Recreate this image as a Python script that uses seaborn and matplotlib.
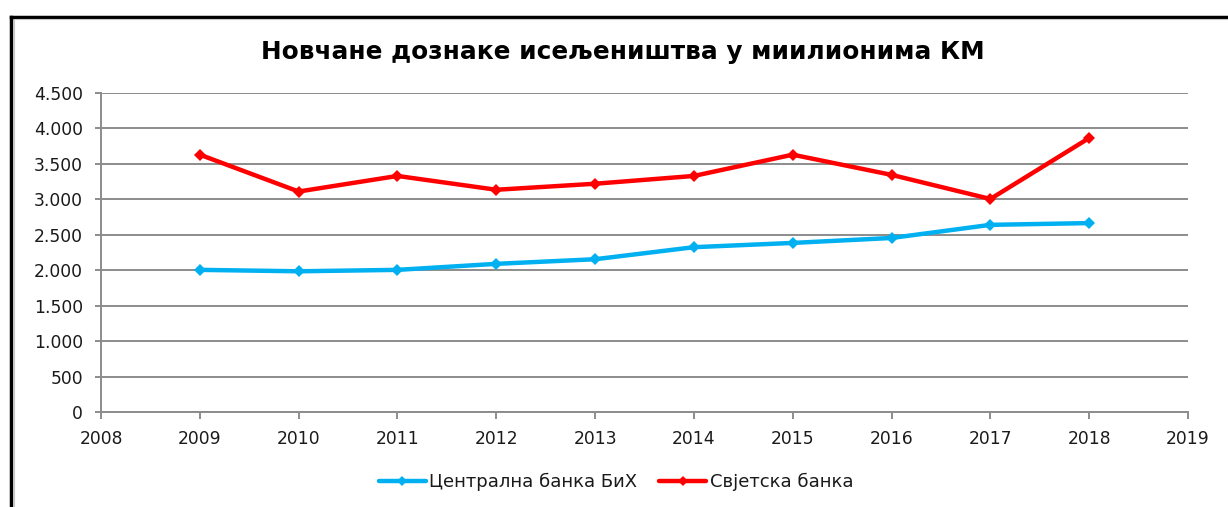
import matplotlib
matplotlib.use("Agg")
import matplotlib.pyplot as plt
from matplotlib.lines import Line2D
from matplotlib.ticker import FuncFormatter, MultipleLocator
import pandas as pd
import seaborn as sns

# Remittances from the diaspora, millions of KM
years = [2009, 2010, 2011, 2012, 2013, 2014, 2015, 2016, 2017, 2018]
cbbh = [2005, 1985, 2005, 2090, 2155, 2325, 2385, 2455, 2640, 2665]
world_bank = [3630, 3110, 3330, 3135, 3220, 3330, 3630, 3345, 3005, 3865]
series_names = ["Централна банка БиХ", "Свјетска банка"]
title_text = "Новчане дознаке исељеништва у миилионима КМ"

df = pd.DataFrame({
    "Година": years * 2,
    "Износ": cbbh + world_bank,
    "Извор": [series_names[0]] * len(years) + [series_names[1]] * len(years),
})

sns.set_theme(style="white")
plt.rcParams["font.family"] = ["DejaVu Sans"]

W, H = 1228, 507
fig = plt.figure(figsize=(W / 100, H / 100), dpi=100)
ax = fig.add_axes([101 / W, 1 - 412 / H, (1188 - 101) / W, (412 - 93) / H])

palette = {series_names[0]: "#00B0F0", series_names[1]: "#FF0000"}
sns.lineplot(data=df, x="Година", y="Износ", hue="Извор", palette=palette,
             marker="D", markersize=6.5, markeredgewidth=0, linewidth=3.2,
             ax=ax, legend=False, zorder=3)

ax.set_xlim(2008, 2019)
ax.set_ylim(0, 4500)
ax.xaxis.set_major_locator(MultipleLocator(1))
ax.yaxis.set_major_locator(MultipleLocator(500))
ax.yaxis.set_major_formatter(FuncFormatter(lambda v, p: f"{int(v):,}".replace(",", ".")))
ax.set_xlabel("")
ax.set_ylabel("")

grid_col = "#8C8C8C"
text_col = "#1a1a1a"
ax.grid(axis="y", color=grid_col, linewidth=1.4)
ax.grid(axis="x", visible=False)
ax.set_axisbelow(True)
for side in ("top", "right"):
    ax.spines[side].set_visible(False)
for side in ("left", "bottom"):
    ax.spines[side].set_color(grid_col)
    ax.spines[side].set_linewidth(1.4)

ax.tick_params(axis="x", which="major", direction="out", length=5, width=1.4,
               color=grid_col, labelsize=12.3, labelcolor=text_col, pad=8, bottom=True)
ax.tick_params(axis="y", which="major", direction="out", length=4, width=1.4,
               color=grid_col, labelsize=12.3, labelcolor=text_col, pad=9, left=True)

fig.text(623 / W, 1 - 59 / H, title_text, ha="center", va="baseline",
         fontsize=17.8, fontweight="bold", color="#000000")

handles = [Line2D([], [], color=palette[n], linewidth=3.2, marker="D",
                  markersize=5, markeredgewidth=0) for n in series_names]
fig.legend(handles, series_names, loc="center", bbox_to_anchor=(616 / W, 1 - 482 / H),
           ncol=2, frameon=False, fontsize=13, handlelength=2.6, handletextpad=0.2,
           columnspacing=1.2, labelcolor=text_col)

# chart frame edges (top and left) with a faint inner shade
fig.add_artist(Line2D([11 / W, 11 / W], [0, 1 - 16.5 / H], transform=fig.transFigure,
                      color="black", linewidth=2.5, solid_capstyle="projecting"))
fig.add_artist(Line2D([11 / W, 1], [1 - 16.5 / H, 1 - 16.5 / H], transform=fig.transFigure,
                      color="black", linewidth=2.5, solid_capstyle="projecting"))
fig.add_artist(Line2D([13.8 / W, 13.8 / W], [0, 1 - 19 / H], transform=fig.transFigure,
                      color="#C8C8C8", linewidth=0.8))
fig.add_artist(Line2D([13.8 / W, 1], [1 - 19.3 / H, 1 - 19.3 / H], transform=fig.transFigure,
                      color="#C8C8C8", linewidth=0.8))

fig.savefig("out.png", dpi=100, facecolor="white")
